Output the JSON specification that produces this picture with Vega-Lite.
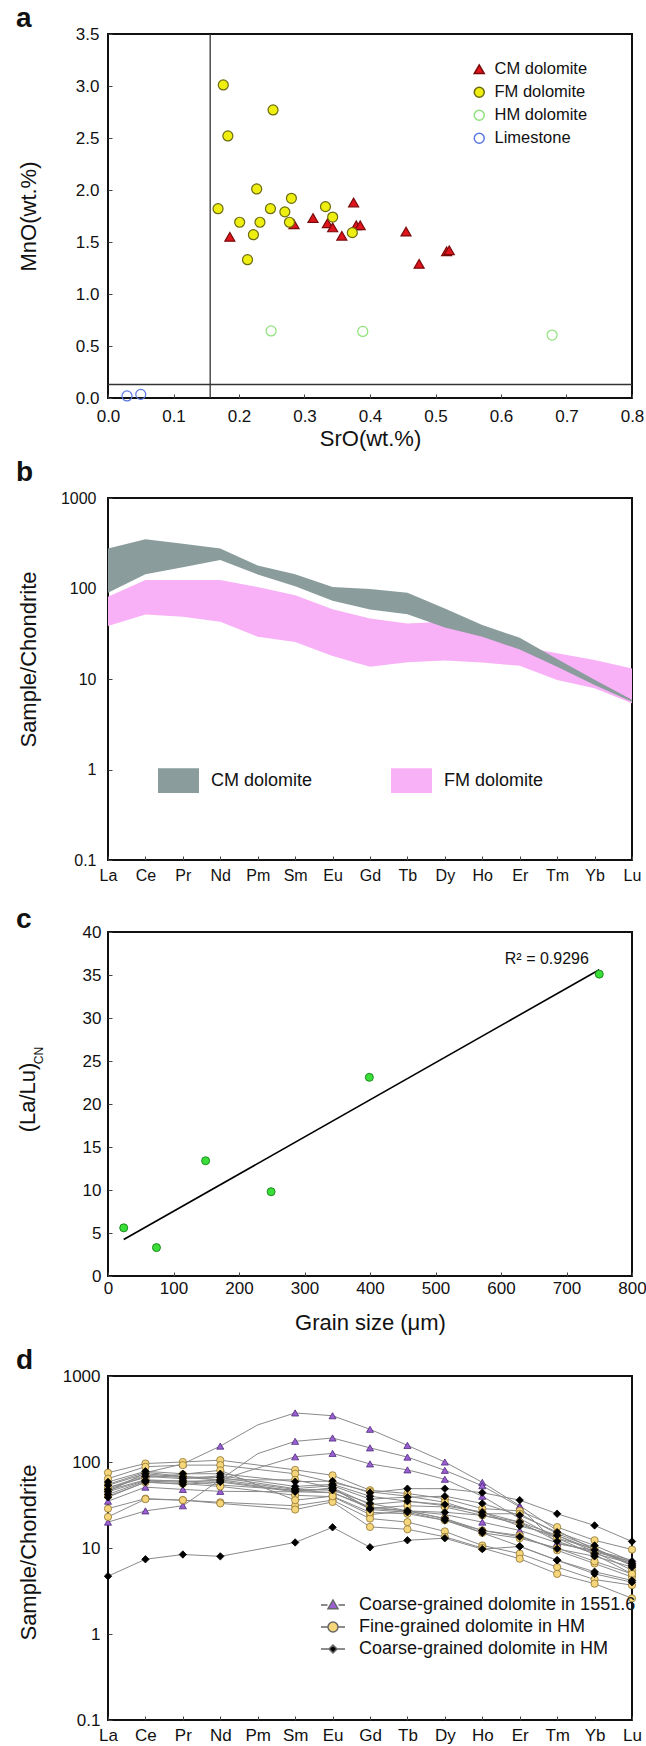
{
  "$schema": "https://vega.github.io/schema/vega-lite/v6.json",
  "background": "white",
  "padding": {"left": 15, "top": 3, "right": 0, "bottom": 0},
  "spacing": 20,
  "bounds": "full",
  "resolve": {"scale": {"shape": "independent", "fill": "independent", "stroke": "independent", "size": "independent"}, "legend": {"shape": "independent", "fill": "independent", "stroke": "independent", "size": "independent"}},
  "config": {
    "font": "Liberation Sans",
    "view": {"stroke": "#111", "strokeWidth": 2},
    "axis": {"grid": false, "domain": false, "tickColor": "#444", "tickSize": -4, "tickWidth": 1, "labelColor": "#111", "titleColor": "#111", "titleFontWeight": "normal", "titleFontSize": 22, "labelFlush": false, "labelOverlap": false, "titleBaseline": "middle", "titleAlign": "center", "titlePadding": 0},
    "legend": {"labelColor": "#111", "padding": 0, "labelLimit": 500},
    "title": {"fontSize": 28, "fontWeight": "bold", "anchor": "start", "frame": "group", "color": "#111", "offset": 0, "baseline": "alphabetic"}
  },
  "datasets": {
    "scatterA": [
      {"sro": 0.186, "mno": 1.55, "type": "CM dolomite"},
      {"sro": 0.284, "mno": 1.67, "type": "CM dolomite"},
      {"sro": 0.313, "mno": 1.73, "type": "CM dolomite"},
      {"sro": 0.335, "mno": 1.68, "type": "CM dolomite"},
      {"sro": 0.343, "mno": 1.64, "type": "CM dolomite"},
      {"sro": 0.357, "mno": 1.56, "type": "CM dolomite"},
      {"sro": 0.375, "mno": 1.88, "type": "CM dolomite"},
      {"sro": 0.379, "mno": 1.66, "type": "CM dolomite"},
      {"sro": 0.385, "mno": 1.66, "type": "CM dolomite"},
      {"sro": 0.455, "mno": 1.60, "type": "CM dolomite"},
      {"sro": 0.475, "mno": 1.29, "type": "CM dolomite"},
      {"sro": 0.517, "mno": 1.41, "type": "CM dolomite"},
      {"sro": 0.521, "mno": 1.42, "type": "CM dolomite"},
      {"sro": 0.176, "mno": 3.01, "type": "FM dolomite"},
      {"sro": 0.252, "mno": 2.77, "type": "FM dolomite"},
      {"sro": 0.183, "mno": 2.52, "type": "FM dolomite"},
      {"sro": 0.227, "mno": 2.01, "type": "FM dolomite"},
      {"sro": 0.168, "mno": 1.82, "type": "FM dolomite"},
      {"sro": 0.280, "mno": 1.92, "type": "FM dolomite"},
      {"sro": 0.248, "mno": 1.82, "type": "FM dolomite"},
      {"sro": 0.270, "mno": 1.79, "type": "FM dolomite"},
      {"sro": 0.332, "mno": 1.84, "type": "FM dolomite"},
      {"sro": 0.343, "mno": 1.74, "type": "FM dolomite"},
      {"sro": 0.201, "mno": 1.69, "type": "FM dolomite"},
      {"sro": 0.232, "mno": 1.69, "type": "FM dolomite"},
      {"sro": 0.277, "mno": 1.69, "type": "FM dolomite"},
      {"sro": 0.222, "mno": 1.57, "type": "FM dolomite"},
      {"sro": 0.373, "mno": 1.59, "type": "FM dolomite"},
      {"sro": 0.213, "mno": 1.33, "type": "FM dolomite"},
      {"sro": 0.249, "mno": 0.645, "type": "HM dolomite"},
      {"sro": 0.389, "mno": 0.64, "type": "HM dolomite"},
      {"sro": 0.678, "mno": 0.605, "type": "HM dolomite"},
      {"sro": 0.029, "mno": 0.02, "type": "Limestone"},
      {"sro": 0.050, "mno": 0.035, "type": "Limestone"}
    ],
    "vlineA": [{"sro": 0.156}],
    "hlineA": [{"mno": 0.13}],
    "bandB": [
      {"el": "La", "group": "CM dolomite", "lo": 89.5, "hi": 276},
      {"el": "Ce", "group": "CM dolomite", "lo": 144, "hi": 350},
      {"el": "Pr", "group": "CM dolomite", "lo": 172, "hi": 313},
      {"el": "Nd", "group": "CM dolomite", "lo": 206, "hi": 276},
      {"el": "Pm", "group": "CM dolomite", "lo": 143, "hi": 180},
      {"el": "Sm", "group": "CM dolomite", "lo": 106, "hi": 144},
      {"el": "Eu", "group": "CM dolomite", "lo": 73, "hi": 104},
      {"el": "Gd", "group": "CM dolomite", "lo": 58.5, "hi": 99},
      {"el": "Tb", "group": "CM dolomite", "lo": 52, "hi": 90},
      {"el": "Dy", "group": "CM dolomite", "lo": 37, "hi": 60},
      {"el": "Ho", "group": "CM dolomite", "lo": 29.3, "hi": 39.4},
      {"el": "Er", "group": "CM dolomite", "lo": 21.2, "hi": 28.5},
      {"el": "Tm", "group": "CM dolomite", "lo": 13.7, "hi": 16.6},
      {"el": "Yb", "group": "CM dolomite", "lo": 8.6, "hi": 9.8},
      {"el": "Lu", "group": "CM dolomite", "lo": 5.6, "hi": 5.9},
      {"el": "La", "group": "FM dolomite", "lo": 38.5, "hi": 81},
      {"el": "Ce", "group": "FM dolomite", "lo": 51.7, "hi": 124},
      {"el": "Pr", "group": "FM dolomite", "lo": 48.7, "hi": 124},
      {"el": "Nd", "group": "FM dolomite", "lo": 43, "hi": 124},
      {"el": "Pm", "group": "FM dolomite", "lo": 29.3, "hi": 104},
      {"el": "Sm", "group": "FM dolomite", "lo": 25.6, "hi": 84},
      {"el": "Eu", "group": "FM dolomite", "lo": 17.9, "hi": 59},
      {"el": "Gd", "group": "FM dolomite", "lo": 13.7, "hi": 46.7},
      {"el": "Tb", "group": "FM dolomite", "lo": 15.3, "hi": 41},
      {"el": "Dy", "group": "FM dolomite", "lo": 16, "hi": 43},
      {"el": "Ho", "group": "FM dolomite", "lo": 15.2, "hi": 30.6},
      {"el": "Er", "group": "FM dolomite", "lo": 14, "hi": 23},
      {"el": "Tm", "group": "FM dolomite", "lo": 9.75, "hi": 19.2},
      {"el": "Yb", "group": "FM dolomite", "lo": 7.9, "hi": 16.2},
      {"el": "Lu", "group": "FM dolomite", "lo": 5.4, "hi": 13.1}
    ],
    "grainC": [
      {"grain": 24, "ratio": 5.6},
      {"grain": 74, "ratio": 3.3},
      {"grain": 149, "ratio": 13.4},
      {"grain": 249, "ratio": 9.8},
      {"grain": 399, "ratio": 23.1},
      {"grain": 750, "ratio": 35.1}
    ],
    "annC": [{"grain": 670, "ratio": 36.9, "label": "R² = 0.9296"}],
    "seriesD": [
      {"s": "P1", "group": "Coarse-grained dolomite in 1551.6"},
      {"s": "P2", "group": "Coarse-grained dolomite in 1551.6"},
      {"s": "P3", "group": "Coarse-grained dolomite in 1551.6"},
      {"s": "P4", "group": "Coarse-grained dolomite in 1551.6"},
      {"s": "Y1", "group": "Fine-grained dolomite in HM"},
      {"s": "Y2", "group": "Fine-grained dolomite in HM"},
      {"s": "Y3", "group": "Fine-grained dolomite in HM"},
      {"s": "Y4", "group": "Fine-grained dolomite in HM"},
      {"s": "Y5", "group": "Fine-grained dolomite in HM"},
      {"s": "Y6", "group": "Fine-grained dolomite in HM"},
      {"s": "Y7", "group": "Fine-grained dolomite in HM"},
      {"s": "Y8", "group": "Fine-grained dolomite in HM"},
      {"s": "B1", "group": "Coarse-grained dolomite in HM"},
      {"s": "B2", "group": "Coarse-grained dolomite in HM"},
      {"s": "B3", "group": "Coarse-grained dolomite in HM"},
      {"s": "B4", "group": "Coarse-grained dolomite in HM"},
      {"s": "B5", "group": "Coarse-grained dolomite in HM"},
      {"s": "B6", "group": "Coarse-grained dolomite in HM"},
      {"s": "B7", "group": "Coarse-grained dolomite in HM"}
    ],
    "reeD": [
      {"s":"P1","el":"La","v":45},{"s":"P1","el":"Ce","v":75},{"s":"P1","el":"Pr","v":95},{"s":"P1","el":"Nd","v":153},{"s":"P1","el":"Pm","v":270},{"s":"P1","el":"Sm","v":372},{"s":"P1","el":"Eu","v":345},{"s":"P1","el":"Gd","v":240},{"s":"P1","el":"Tb","v":156},{"s":"P1","el":"Dy","v":100},{"s":"P1","el":"Ho","v":58},{"s":"P1","el":"Er","v":31},{"s":"P1","el":"Tm","v":16},{"s":"P1","el":"Yb","v":9.5},{"s":"P1","el":"Lu","v":6.8},
      {"s":"P2","el":"La","v":20},{"s":"P2","el":"Ce","v":27},{"s":"P2","el":"Pr","v":31},{"s":"P2","el":"Pm","v":125},{"s":"P2","el":"Sm","v":174},{"s":"P2","el":"Eu","v":190},{"s":"P2","el":"Gd","v":146},{"s":"P2","el":"Tb","v":114},{"s":"P2","el":"Dy","v":80},{"s":"P2","el":"Ho","v":53},{"s":"P2","el":"Er","v":30},{"s":"P2","el":"Tm","v":11.2},{"s":"P2","el":"Yb","v":9.4},{"s":"P2","el":"Lu","v":7.2},
      {"s":"P3","el":"La","v":50},{"s":"P3","el":"Ce","v":70},{"s":"P3","el":"Pr","v":66},{"s":"P3","el":"Nd","v":62},{"s":"P3","el":"Pm","v":85},{"s":"P3","el":"Sm","v":115},{"s":"P3","el":"Eu","v":126},{"s":"P3","el":"Gd","v":95},{"s":"P3","el":"Tb","v":81},{"s":"P3","el":"Dy","v":63},{"s":"P3","el":"Ho","v":40},{"s":"P3","el":"Er","v":22},{"s":"P3","el":"Tm","v":13},{"s":"P3","el":"Yb","v":9.8},{"s":"P3","el":"Lu","v":6.5},
      {"s":"P4","el":"La","v":35},{"s":"P4","el":"Ce","v":51},{"s":"P4","el":"Pr","v":48},{"s":"P4","el":"Nd","v":45.6},{"s":"P4","el":"Sm","v":45},{"s":"P4","el":"Eu","v":44},{"s":"P4","el":"Gd","v":30},{"s":"P4","el":"Tb","v":27},{"s":"P4","el":"Dy","v":24.5},{"s":"P4","el":"Ho","v":20},{"s":"P4","el":"Er","v":16},{"s":"P4","el":"Tm","v":11.5},{"s":"P4","el":"Yb","v":9},{"s":"P4","el":"Lu","v":7},
      {"s":"Y1","el":"La","v":75},{"s":"Y1","el":"Ce","v":96},{"s":"Y1","el":"Pr","v":100},{"s":"Y1","el":"Nd","v":105},{"s":"Y1","el":"Sm","v":81},{"s":"Y1","el":"Eu","v":70},{"s":"Y1","el":"Gd","v":47},{"s":"Y1","el":"Tb","v":43},{"s":"Y1","el":"Dy","v":37.5},{"s":"Y1","el":"Ho","v":28.7},{"s":"Y1","el":"Er","v":27},{"s":"Y1","el":"Tm","v":17.5},{"s":"Y1","el":"Yb","v":12.3},{"s":"Y1","el":"Lu","v":9.6},
      {"s":"Y2","el":"La","v":64},{"s":"Y2","el":"Ce","v":88},{"s":"Y2","el":"Pr","v":92},{"s":"Y2","el":"Nd","v":92},{"s":"Y2","el":"Sm","v":73},{"s":"Y2","el":"Eu","v":58},{"s":"Y2","el":"Gd","v":45},{"s":"Y2","el":"Tb","v":40},{"s":"Y2","el":"Dy","v":34},{"s":"Y2","el":"Ho","v":25},{"s":"Y2","el":"Er","v":25},{"s":"Y2","el":"Tm","v":14.7},{"s":"Y2","el":"Yb","v":10},{"s":"Y2","el":"Lu","v":6.2},
      {"s":"Y3","el":"La","v":55},{"s":"Y3","el":"Ce","v":76},{"s":"Y3","el":"Pr","v":68},{"s":"Y3","el":"Nd","v":62},{"s":"Y3","el":"Sm","v":62},{"s":"Y3","el":"Eu","v":50},{"s":"Y3","el":"Gd","v":32},{"s":"Y3","el":"Tb","v":35},{"s":"Y3","el":"Dy","v":31},{"s":"Y3","el":"Ho","v":26},{"s":"Y3","el":"Er","v":20},{"s":"Y3","el":"Tm","v":14},{"s":"Y3","el":"Yb","v":9},{"s":"Y3","el":"Lu","v":5.5},
      {"s":"Y4","el":"La","v":47},{"s":"Y4","el":"Ce","v":62},{"s":"Y4","el":"Pr","v":60},{"s":"Y4","el":"Nd","v":54},{"s":"Y4","el":"Sm","v":47},{"s":"Y4","el":"Eu","v":44},{"s":"Y4","el":"Gd","v":29},{"s":"Y4","el":"Tb","v":31},{"s":"Y4","el":"Dy","v":30},{"s":"Y4","el":"Ho","v":24},{"s":"Y4","el":"Er","v":19},{"s":"Y4","el":"Tm","v":13},{"s":"Y4","el":"Yb","v":8.4},{"s":"Y4","el":"Lu","v":5},
      {"s":"Y5","el":"La","v":40},{"s":"Y5","el":"Ce","v":58},{"s":"Y5","el":"Pr","v":56},{"s":"Y5","el":"Nd","v":52},{"s":"Y5","el":"Sm","v":41},{"s":"Y5","el":"Eu","v":39.5},{"s":"Y5","el":"Gd","v":24.5},{"s":"Y5","el":"Tb","v":27},{"s":"Y5","el":"Dy","v":22},{"s":"Y5","el":"Ho","v":16},{"s":"Y5","el":"Er","v":14},{"s":"Y5","el":"Tm","v":9.4},{"s":"Y5","el":"Yb","v":6.6},{"s":"Y5","el":"Lu","v":4.6},
      {"s":"Y6","el":"La","v":28.7},{"s":"Y6","el":"Ce","v":37.5},{"s":"Y6","el":"Pr","v":36},{"s":"Y6","el":"Nd","v":34},{"s":"Y6","el":"Sm","v":31},{"s":"Y6","el":"Eu","v":36},{"s":"Y6","el":"Gd","v":22},{"s":"Y6","el":"Tb","v":20},{"s":"Y6","el":"Dy","v":15.6},{"s":"Y6","el":"Ho","v":10.7},{"s":"Y6","el":"Er","v":8.6},{"s":"Y6","el":"Tm","v":6},{"s":"Y6","el":"Yb","v":4.3},{"s":"Y6","el":"Lu","v":3.7},
      {"s":"Y7","el":"La","v":23},{"s":"Y7","el":"Ce","v":37},{"s":"Y7","el":"Pr","v":36},{"s":"Y7","el":"Nd","v":33},{"s":"Y7","el":"Sm","v":28},{"s":"Y7","el":"Eu","v":34.3},{"s":"Y7","el":"Gd","v":17.6},{"s":"Y7","el":"Tb","v":16.5},{"s":"Y7","el":"Dy","v":13.5},{"s":"Y7","el":"Ho","v":10},{"s":"Y7","el":"Er","v":7.5},{"s":"Y7","el":"Tm","v":5},{"s":"Y7","el":"Yb","v":3.85},{"s":"Y7","el":"Lu","v":2.6},
      {"s":"Y8","el":"La","v":50},{"s":"Y8","el":"Ce","v":66},{"s":"Y8","el":"Pr","v":72},{"s":"Y8","el":"Nd","v":80},{"s":"Y8","el":"Sm","v":36},{"s":"Y8","el":"Eu","v":40},{"s":"Y8","el":"Gd","v":26},{"s":"Y8","el":"Tb","v":25},{"s":"Y8","el":"Dy","v":21},{"s":"Y8","el":"Ho","v":15},{"s":"Y8","el":"Er","v":13},{"s":"Y8","el":"Tm","v":10},{"s":"Y8","el":"Yb","v":7},{"s":"Y8","el":"Lu","v":5},
      {"s":"B1","el":"La","v":58.6},{"s":"B1","el":"Ce","v":78},{"s":"B1","el":"Pr","v":73},{"s":"B1","el":"Nd","v":73},{"s":"B1","el":"Sm","v":59},{"s":"B1","el":"Eu","v":60},{"s":"B1","el":"Gd","v":44},{"s":"B1","el":"Tb","v":49},{"s":"B1","el":"Dy","v":49},{"s":"B1","el":"Ho","v":44},{"s":"B1","el":"Er","v":36},{"s":"B1","el":"Tm","v":25},{"s":"B1","el":"Yb","v":18.3},{"s":"B1","el":"Lu","v":11.9},
      {"s":"B2","el":"La","v":53.6},{"s":"B2","el":"Ce","v":73},{"s":"B2","el":"Pr","v":67},{"s":"B2","el":"Nd","v":66},{"s":"B2","el":"Sm","v":49},{"s":"B2","el":"Eu","v":53},{"s":"B2","el":"Gd","v":37},{"s":"B2","el":"Tb","v":39},{"s":"B2","el":"Dy","v":40},{"s":"B2","el":"Ho","v":33},{"s":"B2","el":"Er","v":24},{"s":"B2","el":"Tm","v":15.3},{"s":"B2","el":"Yb","v":10.7},{"s":"B2","el":"Lu","v":7},
      {"s":"B3","el":"La","v":45},{"s":"B3","el":"Ce","v":61},{"s":"B3","el":"Pr","v":60},{"s":"B3","el":"Nd","v":60},{"s":"B3","el":"Sm","v":46},{"s":"B3","el":"Eu","v":49},{"s":"B3","el":"Gd","v":29},{"s":"B3","el":"Tb","v":27},{"s":"B3","el":"Dy","v":26},{"s":"B3","el":"Ho","v":24},{"s":"B3","el":"Er","v":20},{"s":"B3","el":"Tm","v":12},{"s":"B3","el":"Yb","v":8.6},{"s":"B3","el":"Lu","v":6.6},
      {"s":"B4","el":"La","v":39},{"s":"B4","el":"Ce","v":58.5},{"s":"B4","el":"Pr","v":55},{"s":"B4","el":"Nd","v":58.5},{"s":"B4","el":"Sm","v":45},{"s":"B4","el":"Eu","v":50},{"s":"B4","el":"Gd","v":28},{"s":"B4","el":"Tb","v":26},{"s":"B4","el":"Dy","v":21},{"s":"B4","el":"Ho","v":16},{"s":"B4","el":"Er","v":13.5},{"s":"B4","el":"Tm","v":9.8},{"s":"B4","el":"Yb","v":8},{"s":"B4","el":"Lu","v":6},
      {"s":"B5","el":"La","v":42},{"s":"B5","el":"Ce","v":60},{"s":"B5","el":"Pr","v":58},{"s":"B5","el":"Nd","v":62},{"s":"B5","el":"Sm","v":48},{"s":"B5","el":"Eu","v":47},{"s":"B5","el":"Gd","v":33},{"s":"B5","el":"Tb","v":27},{"s":"B5","el":"Dy","v":22},{"s":"B5","el":"Ho","v":15},{"s":"B5","el":"Er","v":10.5},{"s":"B5","el":"Tm","v":7.2},{"s":"B5","el":"Yb","v":5.3},{"s":"B5","el":"Lu","v":4.2},
      {"s":"B6","el":"La","v":48},{"s":"B6","el":"Ce","v":68},{"s":"B6","el":"Pr","v":64},{"s":"B6","el":"Nd","v":69},{"s":"B6","el":"Sm","v":52},{"s":"B6","el":"Eu","v":55},{"s":"B6","el":"Gd","v":40},{"s":"B6","el":"Tb","v":35},{"s":"B6","el":"Dy","v":32},{"s":"B6","el":"Ho","v":26},{"s":"B6","el":"Er","v":18},{"s":"B6","el":"Tm","v":14},{"s":"B6","el":"Yb","v":9.5},{"s":"B6","el":"Lu","v":6.3},
      {"s":"B7","el":"La","v":4.7},{"s":"B7","el":"Ce","v":7.4},{"s":"B7","el":"Pr","v":8.4},{"s":"B7","el":"Nd","v":8},{"s":"B7","el":"Sm","v":11.6},{"s":"B7","el":"Eu","v":17.4},{"s":"B7","el":"Gd","v":10.2},{"s":"B7","el":"Tb","v":12.3},{"s":"B7","el":"Dy","v":13},{"s":"B7","el":"Ho","v":9.7},{"s":"B7","el":"Er","v":10.4},{"s":"B7","el":"Tm","v":7.2},{"s":"B7","el":"Yb","v":5},{"s":"B7","el":"Lu","v":4}
    ]
  },
  "vconcat": [
    {
      "spacing": 100,
      "bounds": "flush",
      "resolve": {"scale": {"shape": "independent", "fill": "independent", "stroke": "independent", "size": "independent"}, "legend": {"shape": "independent", "fill": "independent", "stroke": "independent", "size": "independent"}},
      "vconcat": [
        {
          "width": 524,
          "height": 364,
          "title": {"text": "a", "dx": -92, "dy": 11.5},
          "layer": [
            {
              "data": {"name": "vlineA"},
              "mark": {"type": "rule", "color": "#333", "strokeWidth": 1.3},
              "encoding": {"x": {"field": "sro", "type": "quantitative", "title": "SrO(wt.%)", "scale": {"domain": [0, 0.8], "nice": false}}}
            },
            {
              "data": {"name": "hlineA"},
              "mark": {"type": "rule", "color": "#333", "strokeWidth": 1.3},
              "encoding": {"y": {"field": "mno", "type": "quantitative", "title": "MnO(wt.%)", "scale": {"domain": [0, 3.5], "nice": false}}}
            },
            {
              "data": {"name": "scatterA"},
              "mark": {"type": "point", "filled": true, "size": 100, "strokeWidth": 1.2, "opacity": 1},
              "encoding": {
                "x": {"field": "sro", "type": "quantitative", "title": "SrO(wt.%)", "scale": {"domain": [0, 0.8], "nice": false},
                      "axis": {"values": [0, 0.1, 0.2, 0.3, 0.4, 0.5, 0.6, 0.7, 0.8], "format": ".1f", "labelFontSize": 17, "labelPadding": 14, "titleY": 40}},
                "y": {"field": "mno", "type": "quantitative", "title": "MnO(wt.%)", "scale": {"domain": [0, 3.5], "nice": false},
                      "axis": {"values": [0, 0.5, 1, 1.5, 2, 2.5, 3, 3.5], "format": ".1f", "labelFontSize": 17, "labelPadding": 13, "titleX": -80, "titleY": 182}},
                "shape": {"field": "type", "type": "nominal", "scale": {"domain": ["CM dolomite", "FM dolomite", "HM dolomite", "Limestone"], "range": ["triangle-up", "circle", "circle", "circle"]},
                          "legend": {"orient": "none", "legendX": 363, "legendY": 27, "title": null, "labelFontSize": 16.5, "rowPadding": 6, "labelOffset": 7}},
                "fill": {"field": "type", "type": "nominal", "scale": {"domain": ["CM dolomite", "FM dolomite", "HM dolomite", "Limestone"], "range": ["#e0141c", "#eeee10", "transparent", "transparent"]},
                         "legend": {"orient": "none", "legendX": 363, "legendY": 27, "title": null, "labelFontSize": 16.5, "rowPadding": 6, "labelOffset": 7}},
                "stroke": {"field": "type", "type": "nominal", "scale": {"domain": ["CM dolomite", "FM dolomite", "HM dolomite", "Limestone"], "range": ["#7a0a0a", "#6b6b10", "#8ee27a", "#5a78e0"]},
                           "legend": {"orient": "none", "legendX": 363, "legendY": 27, "title": null, "labelFontSize": 16.5, "rowPadding": 6, "labelOffset": 7}}
              }
            }
          ]
        },
        {
          "width": 524,
          "height": 362,
          "title": {"text": "b", "dx": -92, "dy": 1},
          "data": {"name": "bandB"},
          "encoding": {
            "x": {"field": "el", "type": "ordinal", "sort": ["La","Ce","Pr","Nd","Pm","Sm","Eu","Gd","Tb","Dy","Ho","Er","Tm","Yb","Lu"],
                  "scale": {"type": "point", "padding": 0, "domain": ["La","Ce","Pr","Nd","Pm","Sm","Eu","Gd","Tb","Dy","Ho","Er","Tm","Yb","Lu"]},
                  "axis": {"title": null, "labelAngle": 0, "labelFontSize": 16, "labelPadding": 11}},
            "y": {"field": "lo", "type": "quantitative", "scale": {"type": "log", "domain": [0.1, 1000], "nice": false},
                  "axis": {"title": "Sample/Chondrite", "values": [0.1, 1, 10, 100, 1000], "format": "~g", "labelFontSize": 16, "labelPadding": 16, "titleX": -80, "titleY": 161}},
            "y2": {"field": "hi"},
            "fill": {"field": "group", "type": "nominal", "scale": {"domain": ["CM dolomite", "FM dolomite"], "range": ["#8b9c9c", "#f8b0f7"]},
                     "legend": {"orient": "none", "legendX": 50, "legendY": 262, "title": null, "direction": "horizontal", "columns": 2, "columnPadding": 78, "labelFontSize": 18, "labelOffset": 12, "symbolType": "M-1,-0.6H1V0.6H-1Z", "symbolSize": 1681, "symbolStrokeWidth": 0}}
          },
          "layer": [
            {"transform": [{"filter": "datum.group === 'FM dolomite'"}], "mark": {"type": "area", "opacity": 1}},
            {"transform": [{"filter": "datum.group === 'CM dolomite'"}], "mark": {"type": "area", "opacity": 1}}
          ]
        }
      ]
    },
    {
      "spacing": 100,
      "bounds": "flush",
      "resolve": {"scale": {"shape": "independent", "fill": "independent", "stroke": "independent", "size": "independent"}, "legend": {"shape": "independent", "fill": "independent", "stroke": "independent", "size": "independent"}},
      "vconcat": [
        {
          "width": 524,
          "height": 344,
          "title": {"text": "c", "dx": -92, "dy": 14.5},
          "data": {"name": "grainC"},
          "layer": [
            {
              "transform": [{"regression": "ratio", "on": "grain"}],
              "mark": {"type": "line", "color": "#000", "strokeWidth": 1.6},
              "encoding": {
                "x": {"field": "grain", "type": "quantitative", "title": "Grain size (μm)", "scale": {"domain": [0, 800], "nice": false},
                      "axis": {"values": [0, 100, 200, 300, 400, 500, 600, 700, 800], "labelFontSize": 17, "labelPadding": 8, "titleY": 46}},
                "y": {"field": "ratio", "type": "quantitative", "scale": {"domain": [0, 40], "nice": false},
                      "axis": {"orient": "left", "title": "CN", "titleFontSize": 12, "labels": false, "ticks": false, "domain": false, "titleX": -70, "titleY": 123}}
              }
            },
            {
              "mark": {"type": "point", "filled": true, "size": 64, "fill": "#39de39", "stroke": "#1c8c1c", "strokeWidth": 1, "opacity": 1},
              "encoding": {
                "x": {"field": "grain", "type": "quantitative", "title": "Grain size (μm)", "scale": {"domain": [0, 800], "nice": false}},
                "y": {"field": "ratio", "type": "quantitative", "scale": {"domain": [0, 40], "nice": false},
                      "axis": {"orient": "left", "title": "(La/Lu)", "values": [0, 5, 10, 15, 20, 25, 30, 35, 40], "labelFontSize": 17, "labelPadding": 11, "titleX": -81, "titleY": 165}}
              }
            },
            {
              "data": {"name": "annC"},
              "mark": {"type": "text", "fontSize": 16, "color": "#111"},
              "encoding": {
                "x": {"field": "grain", "type": "quantitative", "title": "Grain size (μm)", "scale": {"domain": [0, 800], "nice": false}},
                "y": {"field": "ratio", "type": "quantitative", "scale": {"domain": [0, 40], "nice": false}, "axis": null},
                "text": {"field": "label"}
              }
            }
          ],
          "resolve": {"scale": {"y": "independent"}, "axis": {"y": "independent"}}
        },
        {
          "width": 524,
          "height": 344,
          "title": {"text": "d", "dx": -92, "dy": 11.5},
          "data": {"name": "reeD"},
          "transform": [{"lookup": "s", "from": {"data": {"name": "seriesD"}, "key": "s", "fields": ["group"]}}],
          "encoding": {
            "x": {"field": "el", "type": "ordinal", "sort": ["La","Ce","Pr","Nd","Pm","Sm","Eu","Gd","Tb","Dy","Ho","Er","Tm","Yb","Lu"],
                  "scale": {"type": "point", "padding": 0, "domain": ["La","Ce","Pr","Nd","Pm","Sm","Eu","Gd","Tb","Dy","Ho","Er","Tm","Yb","Lu"]},
                  "axis": {"title": null, "labelAngle": 0, "labelFontSize": 17, "labelPadding": 11}},
            "y": {"field": "v", "type": "quantitative", "scale": {"type": "log", "domain": [0.1, 1000], "nice": false},
                  "axis": {"title": "Sample/Chondrite", "values": [0.1, 1, 10, 100, 1000], "format": "~g", "labelFontSize": 17, "labelPadding": 12, "titleX": -80, "titleY": 176}}
          },
          "layer": [
            {"mark": {"type": "line", "color": "#8a8a8a", "strokeWidth": 1}, "encoding": {"detail": {"field": "s"}}},
            {
              "transform": [{"filter": "datum.el !== 'Pm'"}],
              "mark": {"type": "point", "filled": true, "opacity": 1, "strokeWidth": 0.8},
              "encoding": {
                "shape": {"field": "group", "type": "nominal", "scale": {"domain": ["Coarse-grained dolomite in 1551.6", "Fine-grained dolomite in HM", "Coarse-grained dolomite in HM"], "range": ["triangle-up", "circle", "diamond"]}, "legend": null},
                "fill": {"field": "group", "type": "nominal", "scale": {"domain": ["Coarse-grained dolomite in 1551.6", "Fine-grained dolomite in HM", "Coarse-grained dolomite in HM"], "range": ["#9b5fd2", "#f6d67a", "#000000"]}, "legend": null},
                "stroke": {"field": "group", "type": "nominal", "scale": {"domain": ["Coarse-grained dolomite in 1551.6", "Fine-grained dolomite in HM", "Coarse-grained dolomite in HM"], "range": ["#4b2a7a", "#8f7433", "#000000"]}, "legend": null},
                "size": {"field": "group", "type": "nominal", "scale": {"domain": ["Coarse-grained dolomite in 1551.6", "Fine-grained dolomite in HM", "Coarse-grained dolomite in HM"], "range": [50, 55, 22]}, "legend": null}
              }
            },
            {
              "transform": [{"filter": "datum.v < 0"}],
              "mark": {"type": "point", "filled": true, "opacity": 1, "size": 44, "strokeWidth": 1},
              "encoding": {
                "shape": {"field": "group", "type": "nominal", "scale": {"domain": ["Coarse-grained dolomite in 1551.6", "Fine-grained dolomite in HM", "Coarse-grained dolomite in HM"], "range": ["M-2.4,0H-1.1M1.1,0H2.4M0,-1L1,0.75H-1Z", "M-2.4,0H-1M1,0H2.4M1,0A1,1,0,1,1,-1,0A1,1,0,1,1,1,0Z", "M-2.4,0H-0.8M0.8,0H2.4M0,-0.8L0.8,0L0,0.8L-0.8,0Z"]},
                          "legend": {"orient": "none", "legendX": 216, "legendY": 220, "title": null, "labelFontSize": 18, "rowPadding": 4, "labelOffset": 17}},
                "fill": {"field": "group", "type": "nominal", "scale": {"domain": ["Coarse-grained dolomite in 1551.6", "Fine-grained dolomite in HM", "Coarse-grained dolomite in HM"], "range": ["#9b5fd2", "#f6d67a", "#000000"]},
                         "legend": {"orient": "none", "legendX": 216, "legendY": 220, "title": null, "labelFontSize": 18, "rowPadding": 4, "labelOffset": 17}},
                "stroke": {"field": "group", "type": "nominal", "scale": {"domain": ["Coarse-grained dolomite in 1551.6", "Fine-grained dolomite in HM", "Coarse-grained dolomite in HM"], "range": ["#666666", "#666666", "#666666"]},
                           "legend": {"orient": "none", "legendX": 216, "legendY": 220, "title": null, "labelFontSize": 18, "rowPadding": 4, "labelOffset": 17}}
              }
            }
          ],
          "resolve": {"scale": {"shape": "independent", "fill": "independent", "stroke": "independent", "size": "independent"}}
        }
      ]
    }
  ]
}
